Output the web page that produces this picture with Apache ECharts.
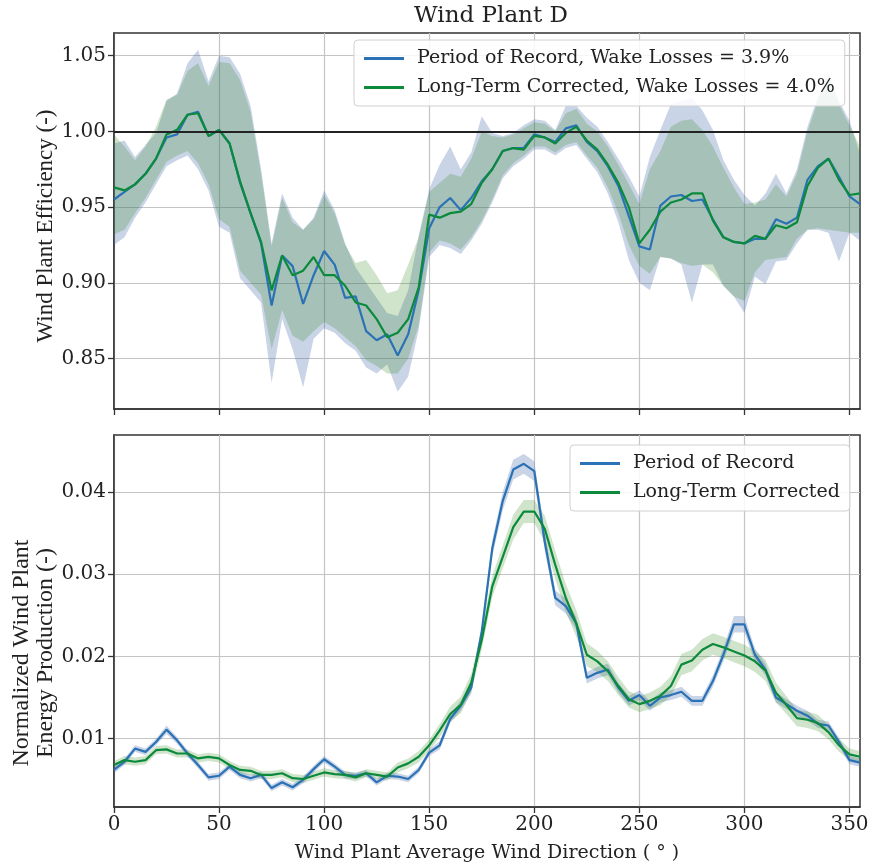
<!DOCTYPE html>
<html><head><meta charset="utf-8">
<script src="https://cdn.jsdelivr.net/npm/echarts@6/dist/echarts.min.js"></script>
<style>html,body{margin:0;padding:0;background:#fff}#c{width:875px;height:864px}</style>
</head><body><div id="c"></div>
<script>
// Wind direction bins (deg)
const directions = [0,5,10,15,20,25,30,35,40,45,50,55,60,65,70,75,80,85,90,95,100,105,110,115,120,125,130,135,140,145,150,155,160,165,170,175,180,185,190,195,200,205,210,215,220,225,230,235,240,245,250,255,260,265,270,275,280,285,290,295,300,305,310,315,320,325,330,335,340,345,350,355];
const xTicks = [0,50,100,150,200,250,300,350];
const effTicks = [0.85,0.90,0.95,1.00,1.05];
const energyTicks = [0.01,0.02,0.03,0.04];

// Top panel: wind plant efficiency
const effPOR = [0.955,0.960,0.965,0.972,0.982,0.996,0.998,1.011,1.013,0.997,1.001,0.992,0.966,0.946,0.926,0.885,0.918,0.911,0.886,0.905,0.921,0.912,0.890,0.891,0.868,0.862,0.866,0.852,0.866,0.895,0.936,0.950,0.956,0.948,0.956,0.967,0.975,0.987,0.989,0.989,0.998,0.996,0.993,1.002,1.004,0.993,0.987,0.977,0.964,0.944,0.924,0.922,0.951,0.957,0.958,0.954,0.955,0.942,0.930,0.927,0.926,0.929,0.929,0.942,0.939,0.943,0.968,0.977,0.982,0.970,0.957,0.952];
const effLTC = [0.963,0.961,0.965,0.972,0.982,0.998,1.001,1.011,1.012,0.997,1.001,0.992,0.967,0.946,0.927,0.895,0.918,0.905,0.908,0.917,0.905,0.905,0.898,0.887,0.885,0.876,0.864,0.867,0.876,0.897,0.945,0.943,0.946,0.947,0.952,0.966,0.975,0.987,0.989,0.988,0.997,0.996,0.992,0.999,1.003,0.994,0.988,0.978,0.966,0.950,0.926,0.935,0.947,0.953,0.955,0.959,0.959,0.941,0.930,0.927,0.926,0.931,0.929,0.938,0.936,0.940,0.964,0.976,0.982,0.968,0.958,0.959];
const effPORLow = [0.925,0.930,0.943,0.953,0.965,0.977,0.981,0.984,0.975,0.961,0.937,0.933,0.903,0.895,0.887,0.834,0.876,0.856,0.831,0.863,0.870,0.867,0.860,0.855,0.844,0.840,0.846,0.828,0.838,0.869,0.917,0.925,0.923,0.919,0.928,0.939,0.953,0.969,0.977,0.982,0.988,0.988,0.984,0.989,0.991,0.982,0.973,0.959,0.940,0.915,0.900,0.895,0.917,0.916,0.912,0.887,0.912,0.912,0.898,0.891,0.880,0.904,0.899,0.914,0.915,0.926,0.935,0.935,0.933,0.914,0.933,0.928];
const effPORHigh = [0.992,0.994,0.983,0.991,0.999,1.020,1.025,1.045,1.054,1.033,1.050,1.049,1.038,1.017,0.975,0.926,0.959,0.943,0.935,0.943,0.961,0.948,0.926,0.910,0.900,0.890,0.880,0.878,0.895,0.931,0.962,0.978,0.990,0.975,0.986,1.010,0.999,0.997,0.999,1.004,1.008,1.007,1.001,1.017,1.017,1.009,1.003,0.993,0.982,0.970,0.957,0.983,1.001,1.018,1.020,1.022,1.014,1.001,0.981,0.968,0.958,0.951,0.959,0.972,0.959,0.975,1.003,1.023,1.039,1.020,1.007,0.985];
const effLTCLow = [0.932,0.935,0.946,0.956,0.968,0.980,0.984,0.987,0.979,0.965,0.942,0.937,0.908,0.900,0.892,0.856,0.882,0.865,0.861,0.868,0.874,0.870,0.864,0.858,0.849,0.845,0.840,0.840,0.850,0.872,0.920,0.928,0.926,0.922,0.930,0.941,0.955,0.971,0.979,0.984,0.990,0.990,0.986,0.991,0.993,0.984,0.976,0.963,0.946,0.925,0.911,0.906,0.917,0.916,0.913,0.911,0.912,0.907,0.898,0.891,0.888,0.907,0.915,0.916,0.917,0.929,0.935,0.936,0.935,0.934,0.933,0.933];
const effLTCHigh = [0.998,0.990,0.981,0.990,1.003,1.021,1.024,1.040,1.045,1.030,1.046,1.045,1.034,1.013,0.972,0.924,0.956,0.940,0.935,0.942,0.958,0.946,0.925,0.913,0.915,0.905,0.893,0.895,0.912,0.930,0.960,0.966,0.972,0.970,0.982,1.000,0.997,0.996,0.998,1.002,1.006,1.005,1.000,1.012,1.015,1.005,1.000,0.990,0.978,0.965,0.952,0.975,0.987,1.003,1.007,1.008,1.001,0.990,0.976,0.963,0.952,0.953,0.955,0.965,0.957,0.972,1.000,1.020,1.037,1.018,1.004,0.990];

// Bottom panel: normalized energy production
const engPOR = [0.0062,0.0072,0.0088,0.0084,0.0096,0.0111,0.0098,0.0082,0.0068,0.0053,0.0055,0.0066,0.0056,0.0052,0.0056,0.0040,0.0047,0.0041,0.0050,0.0063,0.0075,0.0066,0.0056,0.0055,0.0058,0.0047,0.0055,0.0054,0.0051,0.0062,0.0083,0.0092,0.0124,0.0140,0.0162,0.0230,0.0331,0.0389,0.0427,0.0434,0.0425,0.0339,0.0271,0.0261,0.0240,0.0174,0.0180,0.0184,0.0162,0.0146,0.0153,0.0140,0.0150,0.0153,0.0157,0.0146,0.0146,0.0170,0.0202,0.0239,0.0239,0.0202,0.0184,0.0150,0.0142,0.0134,0.0128,0.0118,0.0116,0.0096,0.0074,0.0071];
const engLTC = [0.0068,0.0074,0.0072,0.0074,0.0086,0.0087,0.0082,0.0082,0.0076,0.0078,0.0076,0.0068,0.0062,0.0061,0.0056,0.0056,0.0058,0.0052,0.0051,0.0055,0.0059,0.0057,0.0056,0.0053,0.0058,0.0056,0.0054,0.0065,0.0070,0.0078,0.0092,0.0110,0.0130,0.0141,0.0168,0.0220,0.0285,0.0321,0.0357,0.0376,0.0376,0.0355,0.0311,0.0271,0.0240,0.0202,0.0194,0.0182,0.0164,0.0148,0.0142,0.0146,0.0152,0.0164,0.0190,0.0195,0.0208,0.0215,0.0211,0.0206,0.0201,0.0194,0.0183,0.0156,0.0141,0.0125,0.0123,0.0119,0.0108,0.0092,0.0081,0.0078];
const engPORLow = [0.0058,0.0068,0.0084,0.0080,0.0092,0.0106,0.0094,0.0078,0.0064,0.0049,0.0051,0.0062,0.0052,0.0048,0.0052,0.0036,0.0043,0.0037,0.0046,0.0059,0.0071,0.0062,0.0052,0.0051,0.0054,0.0043,0.0051,0.0050,0.0047,0.0058,0.0079,0.0087,0.0119,0.0134,0.0155,0.0222,0.0321,0.0378,0.0415,0.0422,0.0413,0.0328,0.0262,0.0252,0.0232,0.0167,0.0173,0.0177,0.0156,0.0140,0.0147,0.0134,0.0144,0.0147,0.0151,0.0140,0.0140,0.0163,0.0194,0.0229,0.0229,0.0194,0.0177,0.0144,0.0136,0.0128,0.0122,0.0113,0.0111,0.0091,0.0069,0.0066];
const engPORHigh = [0.0066,0.0076,0.0092,0.0088,0.0100,0.0116,0.0102,0.0086,0.0072,0.0057,0.0059,0.0070,0.0060,0.0056,0.0060,0.0044,0.0051,0.0045,0.0054,0.0067,0.0079,0.0070,0.0060,0.0059,0.0062,0.0051,0.0059,0.0058,0.0055,0.0066,0.0087,0.0097,0.0129,0.0146,0.0169,0.0238,0.0341,0.0400,0.0439,0.0446,0.0437,0.0350,0.0280,0.0270,0.0248,0.0181,0.0187,0.0191,0.0168,0.0152,0.0159,0.0146,0.0156,0.0159,0.0163,0.0152,0.0152,0.0177,0.0210,0.0249,0.0249,0.0210,0.0191,0.0156,0.0148,0.0140,0.0134,0.0123,0.0121,0.0101,0.0079,0.0076];
const engLTCLow = [0.0063,0.0069,0.0067,0.0069,0.0081,0.0082,0.0077,0.0077,0.0071,0.0073,0.0071,0.0063,0.0057,0.0056,0.0051,0.0051,0.0053,0.0047,0.0046,0.0050,0.0054,0.0052,0.0051,0.0048,0.0053,0.0051,0.0049,0.0059,0.0064,0.0071,0.0085,0.0102,0.0121,0.0131,0.0157,0.0208,0.0272,0.0307,0.0342,0.0362,0.0362,0.0339,0.0294,0.0254,0.0224,0.0188,0.0181,0.0170,0.0153,0.0138,0.0132,0.0136,0.0141,0.0152,0.0177,0.0182,0.0195,0.0202,0.0198,0.0193,0.0188,0.0181,0.0170,0.0144,0.0130,0.0115,0.0113,0.0109,0.0099,0.0084,0.0074,0.0071];
const engLTCHigh = [0.0073,0.0079,0.0077,0.0079,0.0091,0.0092,0.0087,0.0087,0.0081,0.0083,0.0081,0.0073,0.0067,0.0066,0.0061,0.0061,0.0063,0.0057,0.0056,0.0060,0.0064,0.0062,0.0061,0.0058,0.0063,0.0061,0.0059,0.0071,0.0076,0.0085,0.0099,0.0118,0.0139,0.0151,0.0179,0.0232,0.0298,0.0335,0.0372,0.0390,0.0390,0.0371,0.0328,0.0288,0.0256,0.0216,0.0207,0.0194,0.0175,0.0158,0.0152,0.0156,0.0163,0.0176,0.0203,0.0208,0.0221,0.0228,0.0224,0.0219,0.0214,0.0207,0.0196,0.0168,0.0152,0.0135,0.0133,0.0129,0.0117,0.0100,0.0088,0.0085];

const topNames = ['Period of Record, Wake Losses = 3.9%', 'Long-Term Corrected, Wake Losses = 4.0%'];
const botNames = ['Period of Record', 'Long-Term Corrected'];

const BLUE = '#2a72b5', GREEN = '#0b8a3c';
const BLUE_FILL = 'rgba(76,114,176,0.30)', GREEN_FILL = 'rgba(40,130,20,0.22)';
const SERIF = '"DejaVu Serif", serif';

const pairs = ys => directions.map((d, i) => [d, ys[i]]);

// confidence band drawn as a polygon through the axis scales
function band(idx, lo, hi, fill) {
  return {type:'custom', xAxisIndex:idx, yAxisIndex:idx, silent:true, z:1, clip:true,
    data:[[directions[0], lo[0]]],
    renderItem:(params, api) => {
      const pts = [];
      for (let i = 0; i < directions.length; i++) pts.push(api.coord([directions[i], hi[i]]));
      for (let i = directions.length - 1; i >= 0; i--) pts.push(api.coord([directions[i], lo[i]]));
      return {type:'polygon', shape:{points:pts}, style:{fill:fill, stroke:null}};
    }};
}
function line(idx, name, ys, color, z) {
  return {type:'line', name:name, xAxisIndex:idx, yAxisIndex:idx, data:pairs(ys), symbol:'none',
    lineStyle:{color:color, width:2.2}, itemStyle:{color:color}, z:z};
}

const axisCommon = {
  axisLine:{show:true, lineStyle:{color:'#333', width:1.5}},
  axisTick:{show:true, inside:false, length:6, lineStyle:{color:'#333', width:1.3}},
  splitLine:{show:true, lineStyle:{color:'#c4c4c4', width:1.2}},
};

function xAxis(idx, showLabel) {
  return Object.assign({}, axisCommon, {
    type:'value', gridIndex:idx, min:0, max:355, interval:50,
    axisTick:Object.assign({}, axisCommon.axisTick, {customValues:xTicks}),
    axisLabel:{show:showLabel, customValues:xTicks, fontFamily:SERIF, fontSize:20, color:'#222', margin:8}
  });
}
function yAxis(idx, min, max, ticks) {
  return Object.assign({}, axisCommon, {
    type:'value', gridIndex:idx, min:min, max:max,
    axisTick:Object.assign({}, axisCommon.axisTick, {customValues:ticks}),
    axisLabel:{customValues:ticks, formatter:v => v.toFixed(2), fontFamily:SERIF, fontSize:20, color:'#222', margin:8}
  });
}

const legendCommon = {
  orient:'vertical', padding:[7,10,7,10], itemGap:6, itemWidth:40, itemHeight:3, icon:'rect',
  backgroundColor:'rgba(255,255,255,0.85)', borderColor:'#d0d0d0', borderWidth:1, borderRadius:4,
  textStyle:{fontFamily:SERIF, fontSize:19, color:'#222', padding:[0,0,0,8], lineHeight:23}
};

const chart = echarts.init(document.getElementById('c'), null, {renderer:'canvas'});
chart.setOption({
  animation:false,
  backgroundColor:'#fff',
  title:{text:'Wind Plant D', left:486, top:0, textAlign:'center',
    textStyle:{fontFamily:SERIF, fontSize:23, fontWeight:'normal', color:'#222'}},
  grid:[
    {left:114, right:15, top:33, height:376, show:true, borderColor:'#333', borderWidth:1.5, backgroundColor:'#fff'},
    {left:114, right:15, top:435, height:376, show:true, borderColor:'#333', borderWidth:1.5, backgroundColor:'#fff'}
  ],
  xAxis:[xAxis(0, false), Object.assign(xAxis(1, true), {
    name:'Wind Plant Average Wind Direction ( ° )', nameLocation:'middle', nameGap:37,
    nameTextStyle:{fontFamily:SERIF, fontSize:19, color:'#222'}})],
  yAxis:[yAxis(0, 0.8166, 1.065, effTicks), yAxis(1, 0.0017, 0.0469, energyTicks)],
  legend:[
    Object.assign({}, legendCommon, {data:topNames, left:354, top:40}),
    Object.assign({}, legendCommon, {data:botNames, left:570, top:445})
  ],
  graphic:[
    {type:'text', x:46, y:226, rotation:Math.PI/2, style:{text:'Wind Plant Efficiency (-)',
      font:'23px "Liberation Serif"', fill:'#222', textAlign:'center', textVerticalAlign:'middle'}},
    {type:'text', x:22, y:653, rotation:Math.PI/2, style:{text:'Normalized Wind Plant',
      font:'24px "Liberation Serif"', fill:'#222', textAlign:'center', textVerticalAlign:'middle'}},
    {type:'text', x:46, y:653, rotation:Math.PI/2, style:{text:'Energy Production (-)',
      font:'24px "Liberation Serif"', fill:'#222', textAlign:'center', textVerticalAlign:'middle'}}
  ],
  series:[
    band(0, effPORLow, effPORHigh, BLUE_FILL),
    band(0, effLTCLow, effLTCHigh, GREEN_FILL),
    line(0, topNames[0], effPOR, BLUE, 3),
    line(0, topNames[1], effLTC, GREEN, 4),
    {type:'line', xAxisIndex:0, yAxisIndex:0, data:[], z:6, silent:true,
      markLine:{silent:true, symbol:'none', label:{show:false},
        lineStyle:{color:'#222', width:2, type:'solid'}, data:[{yAxis:1.0}]}},
    band(1, engPORLow, engPORHigh, BLUE_FILL),
    band(1, engLTCLow, engLTCHigh, GREEN_FILL),
    line(1, botNames[0], engPOR, BLUE, 3),
    line(1, botNames[1], engLTC, GREEN, 4)
  ]
});
</script>
</body></html>
